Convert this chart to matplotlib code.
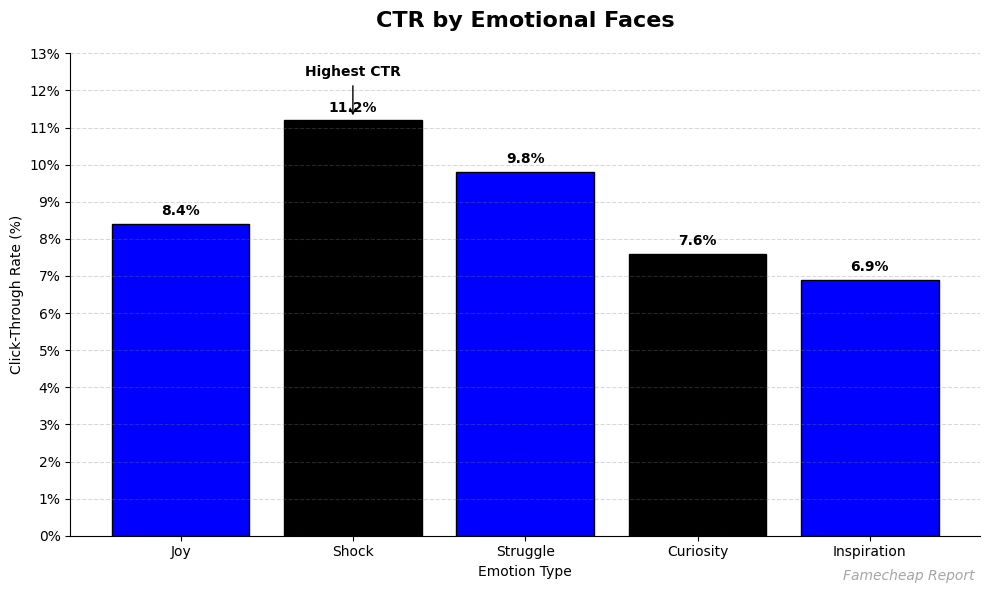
import matplotlib
matplotlib.use("Agg")
import matplotlib.pyplot as plt
from matplotlib.ticker import FuncFormatter, MultipleLocator

categories = ["Joy", "Shock", "Struggle", "Curiosity", "Inspiration"]
ctr_values = [8.4, 11.2, 9.8, 7.6, 6.9]
bar_colors = ["#0000ff", "#000000", "#0000ff", "#000000", "#0000ff"]

fig, ax = plt.subplots(figsize=(9.9, 5.92), dpi=100)
bars = ax.bar(categories, ctr_values, color=bar_colors, edgecolor="black", linewidth=1, width=0.8)

ax.set_ylim(0, 13)
ax.yaxis.set_major_locator(MultipleLocator(1))
ax.yaxis.set_major_formatter(FuncFormatter(lambda v, p: f"{int(round(v))}%"))
ax.grid(axis="y", linestyle="--", color="gray", alpha=0.3, zorder=3)
ax.set_axisbelow(False)

for b, v in zip(bars, ctr_values):
    ax.text(b.get_x() + b.get_width() / 2, v + 0.15, f"{v}%", ha="center", va="bottom",
            fontsize=10, fontweight="bold")

imax = ctr_values.index(max(ctr_values))
ax.annotate("Highest CTR", xy=(imax, max(ctr_values) + 0.05), xytext=(imax, 12.5),
            ha="center", va="center", fontsize=10, fontweight="bold",
            arrowprops=dict(arrowstyle="->", color="black", shrinkA=3, shrinkB=2))

ax.set_title("CTR by Emotional Faces", fontsize=16, fontweight="bold", pad=19)
ax.set_xlabel("Emotion Type", fontsize=10)
ax.set_ylabel("Click-Through Rate (%)", fontsize=10)
ax.spines["top"].set_visible(False)
ax.spines["right"].set_visible(False)

fig.text(0.984, 0.027, "Famecheap Report", ha="right", va="center", fontsize=10,
         style="italic", color="gray", alpha=0.7)

fig.subplots_adjust(left=0.071, right=0.99, top=0.91, bottom=0.095)
fig.savefig("out.png", dpi=100)
